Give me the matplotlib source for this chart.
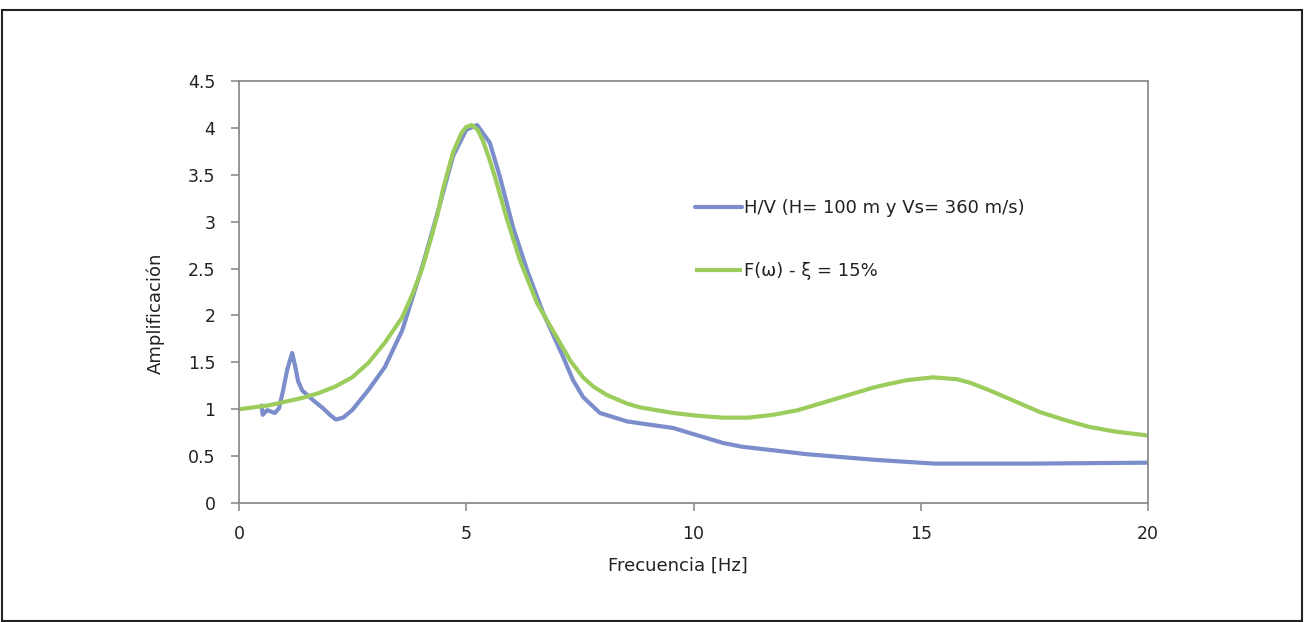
import matplotlib
matplotlib.use("Agg")
import matplotlib.pyplot as plt
from matplotlib.patches import Rectangle

# H/V measured curve
hv_freq = [0.50, 0.52, 0.62, 0.79, 0.88, 0.97, 1.06, 1.17, 1.24, 1.30, 1.39, 1.67, 1.85,
           2.00, 2.13, 2.29, 2.49, 2.84, 3.21, 3.59, 3.87, 4.05, 4.36, 4.71, 5.00, 5.24,
           5.52, 5.74, 6.03, 6.34, 6.69, 7.13, 7.35, 7.57, 7.94, 8.54, 8.82, 9.55, 10.10,
           10.65, 11.07, 12.5, 14.0, 15.3, 17.4, 20.0]
hv_amp = [1.04, 0.94, 0.99, 0.96, 1.01, 1.20, 1.42, 1.60, 1.45, 1.30, 1.20, 1.08, 1.01,
          0.94, 0.89, 0.91, 0.99, 1.20, 1.45, 1.84, 2.27, 2.55, 3.08, 3.70, 3.98, 4.03,
          3.84, 3.48, 2.94, 2.48, 2.03, 1.56, 1.31, 1.13, 0.96, 0.87, 0.85, 0.80, 0.72,
          0.64, 0.60, 0.52, 0.46, 0.42, 0.42, 0.43]

# Transfer function F(w), damping 15%
tf_freq = [0.0, 0.64, 1.39, 1.74, 2.11, 2.49, 2.84, 3.21, 3.59, 3.81, 4.03, 4.20, 4.36, 4.49,
           4.71, 4.90, 5.00, 5.12, 5.25, 5.37, 5.50, 5.63, 5.90, 6.18, 6.56, 7.06, 7.30,
           7.57, 7.80, 8.10, 8.54, 8.82, 9.55, 10.10, 10.65, 11.20, 11.75, 12.30, 12.85,
           13.40, 13.95, 14.30, 14.70, 15.27, 15.80, 16.10, 16.52, 17.00, 17.62, 18.20,
           18.72, 19.30, 20.0]
tf_amp = [1.00, 1.04, 1.12, 1.17, 1.24, 1.34, 1.49, 1.71, 1.98, 2.22, 2.50, 2.78, 3.06, 3.35,
          3.74, 3.95, 4.01, 4.03, 3.98, 3.86, 3.68, 3.48, 3.02, 2.59, 2.13, 1.71, 1.51,
          1.34, 1.24, 1.15, 1.06, 1.02, 0.96, 0.93, 0.91, 0.91, 0.94, 0.99, 1.07,
          1.15, 1.23, 1.27, 1.31, 1.34, 1.32, 1.28, 1.20, 1.10, 0.97, 0.88,
          0.81, 0.76, 0.72]

x_ticks = [0, 5, 10, 15, 20]
y_ticks = [0, 0.5, 1, 1.5, 2, 2.5, 3, 3.5, 4, 4.5]
y_tick_labels = ["0", "0.5", "1", "1.5", "2", "2.5", "3", "3.5", "4", "4.5"]

label_hv = "H/V (H= 100 m y Vs= 360 m/s)"
label_tf = "F(ω) - ξ = 15%"

plt.rcParams['font.family'] = ['DejaVu Sans']

W, H = 1306, 622
fig = plt.figure(figsize=(W / 100, H / 100), dpi=100)
fig.patches.append(Rectangle((2 / W, 1 - 621 / H), 1300 / W, 611 / H, transform=fig.transFigure,
                             fill=False, edgecolor='#222222', linewidth=1.5))

ax = fig.add_axes([239 / W, 1 - 503 / H, 909 / W, 422 / H])
blue = '#7b8ecb'
green = '#9ccc5c'
ax.plot(hv_freq, hv_amp, color=blue, linewidth=3.0, label=label_hv,
        solid_joinstyle='round', solid_capstyle='round')
ax.plot(tf_freq, tf_amp, color=green, linewidth=3.0, label=label_tf,
        solid_joinstyle='round', solid_capstyle='butt')

ax.set_xlim(0, 20)
ax.set_ylim(0, 4.5)
ax.set_xticks(x_ticks)
ax.set_yticks(y_ticks)
ax.set_yticklabels(y_tick_labels)
spine_c = '#8c8c8c'
for s in ax.spines.values():
    s.set_color(spine_c)
    s.set_linewidth(1.3)
ax.tick_params(axis='both', colors=spine_c, labelcolor='#222222', labelsize=12.5, length=6, width=1.2)
ax.tick_params(axis='y', pad=11)
ax.tick_params(axis='x', pad=10)

ax.set_xlabel("Frecuencia [Hz]", fontsize=13, color='#222222')
ax.xaxis.set_label_coords(439 / 909, -54 / 422)
ax.set_ylabel("Amplificación", fontsize=13, color='#222222')
ax.yaxis.set_label_coords(-74 / 909, 190 / 422)

leg = ax.legend(loc='upper left', bbox_to_anchor=(456 / 909, 304 / 422), frameon=False,
                fontsize=13, handlelength=2.6, handletextpad=0.12, labelspacing=2.5,
                borderaxespad=0, borderpad=0)
for t in leg.get_texts():
    t.set_color('#222222')

fig.savefig("out.png", dpi=100)
